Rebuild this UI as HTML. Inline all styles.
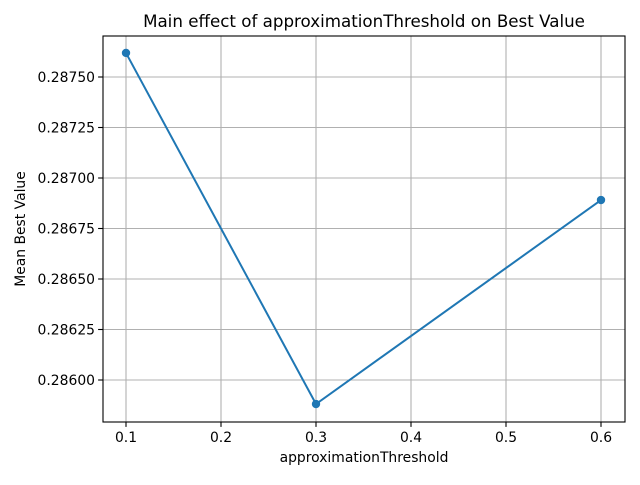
<!DOCTYPE html>
<html><head><meta charset="utf-8"><style>
body{margin:0;background:#fff;}
svg text{font-family:"DejaVu Sans","Liberation Sans",sans-serif;fill:#000;}
</style></head><body>
<svg id="chart" width="640" height="480">
<rect width="640" height="480" fill="#fff"/>
<g id="grid"></g>
<g id="axes"></g>
<g id="series"></g>
<text x="364" y="27" font-size="16.7" text-anchor="middle">Main effect of approximationThreshold on Best Value</text>
<text x="364" y="462" font-size="13.9" text-anchor="middle">approximationThreshold</text>
<text x="25" y="229" font-size="13.9" text-anchor="middle" transform="rotate(-90 25 229)">Mean Best Value</text>
</svg>
<script>
const categories = [0.1, 0.3, 0.6];
const meanValues = [0.287619, 0.285881, 0.286891];
const xTicks = [0.1, 0.2, 0.3, 0.4, 0.5, 0.6];
const yTicks = [0.28600, 0.28625, 0.28650, 0.28675, 0.28700, 0.28725, 0.28750];

const L=103,R=625,T=36,B=422;
const xs = v => 126 + (v-0.1)*950;
const ys = v => 77 + (0.2875 - v)*202000;
const NS="http://www.w3.org/2000/svg";
function mk(tag, attrs, parent){const e=document.createElementNS(NS,tag);for(const k in attrs)e.setAttribute(k,attrs[k]);parent.appendChild(e);return e;}
const grid=document.getElementById('grid'), axes=document.getElementById('axes'), series=document.getElementById('series');

xTicks.forEach(t=>{
  const x=xs(t);
  const g=mk('line',{x1:x,x2:x,y1:T,y2:B,stroke:'#b0b0b0','stroke-width':1.1},grid);
  
  
  const tk=mk('line',{x1:x,x2:x,y1:B,y2:B+4.9,stroke:'#000','stroke-width':1.1},axes);
  
  
  const lb=mk('text',{x:x,y:B+20,'font-size':13.9,'text-anchor':'middle'},axes);
  lb.textContent=t.toFixed(1);
  
  
});
yTicks.forEach(t=>{
  const y=ys(t);
  const g=mk('line',{x1:L,x2:R,y1:y,y2:y,stroke:'#b0b0b0','stroke-width':1.1},grid);
  
  
  const tk=mk('line',{x1:L-4.9,x2:L,y1:y,y2:y,stroke:'#000','stroke-width':1.1},axes);
  
  
  const lb=mk('text',{x:L-8,y:y+5,'font-size':13.9,'text-anchor':'end'},axes);
  lb.textContent=t.toFixed(5);
  
  
});
const frame=mk('rect',{x:L,y:T,width:R-L,height:B-T,fill:'none',stroke:'#000','stroke-width':1.1},axes);



const pts=categories.map((c,i)=>xs(c)+','+ys(meanValues[i])).join(' ');
const line=mk('polyline',{points:pts,fill:'none',stroke:'#1f77b4','stroke-width':2},series);


categories.forEach((c,i)=>{
  const p=mk('circle',{cx:xs(c),cy:ys(meanValues[i]),r:4.2,fill:'#1f77b4'},series);
  
  
});
</script>
</body></html>
